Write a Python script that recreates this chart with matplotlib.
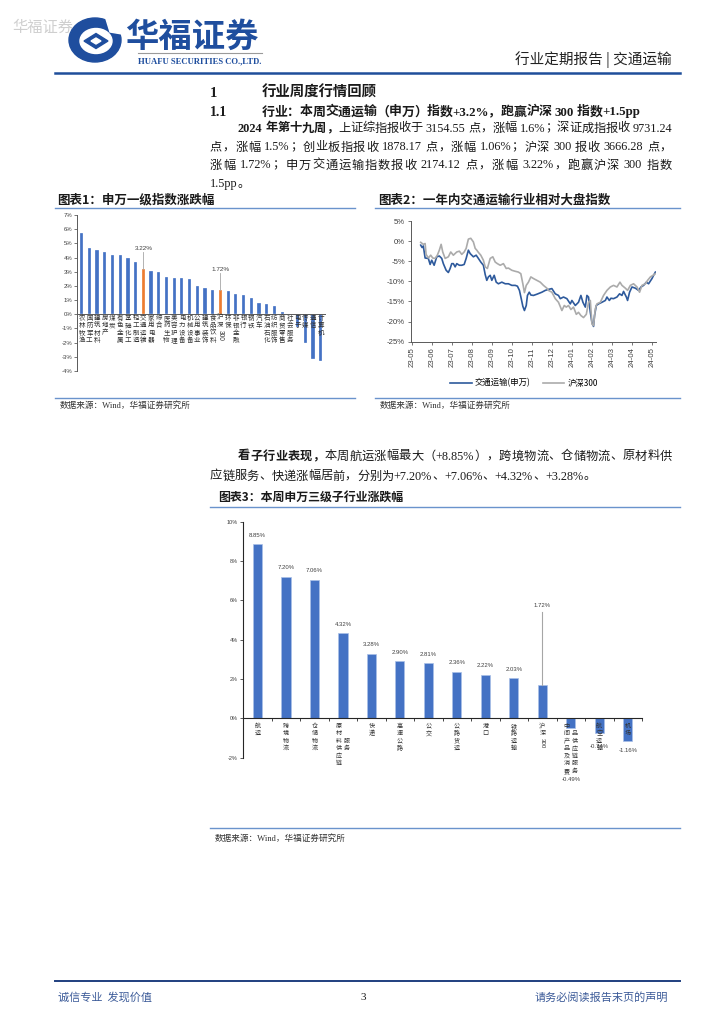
import re
import numpy as np
import matplotlib
matplotlib.use('Agg')
import matplotlib.pyplot as plt
from matplotlib.patches import Ellipse, Polygon
from matplotlib.lines import Line2D

# ---------------- data ----------------
cats1 = ['农林牧渔', '国防军工', '建筑材料', '房地产', '煤炭', '有色金属', '基础化工', '轻工制造',
         '交通运输', '家用电器', '综合', '医药生物', '美容护理', '电力设备', '机械设备', '公用事业',
         '建筑装饰', '食品饮料', '沪深300', '环保', '非银金融', '银行', '钢铁', '汽车', '石油石化',
         '纺织服饰', '商贸零售', '社会服务', '电子', '传媒', '通信', '计算机']
vals1 = [5.70, 4.65, 4.50, 4.37, 4.15, 4.15, 4.00, 3.68, 3.22, 3.07, 2.98, 2.60, 2.56, 2.53, 2.51,
         2.02, 1.85, 1.71, 1.72, 1.67, 1.43, 1.34, 1.13, 0.77, 0.73, 0.56, 0.14, 0.02, -0.87, -2.00,
         -3.17, -3.26]
highlight1 = ['交通运输', '沪深300']

month_labels = ['23-05', '23-06', '23-07', '23-08', '23-09', '23-10', '23-11', '23-12',
                '24-01', '24-02', '24-03', '24-04', '24-05']
series2_names = ['交通运输(申万)', '沪深300']
t_blue = [0.45, 0.52, 0.58, 0.67, 0.83, 0.92, 1.0, 1.12, 1.25, 1.38, 1.5, 1.58, 1.72, 1.83, 1.92,
          2.0, 2.08, 2.17, 2.25, 2.38, 2.5, 2.62, 2.72, 2.83, 2.92, 3.08, 3.22, 3.33, 3.45, 3.58,
          3.67, 3.75, 3.83, 3.92, 4.0, 4.12, 4.22, 4.33, 4.5, 4.67, 4.83, 5.0, 5.17, 5.28, 5.38,
          5.47, 5.55, 5.63, 5.72, 5.78, 5.87, 5.95, 6.08, 6.25, 6.5, 6.67, 6.83, 7.0, 7.17, 7.33,
          7.42, 7.58, 7.75, 7.92, 8.0, 8.17, 8.33, 8.45, 8.55, 8.67, 8.75, 8.83, 8.92, 9.0, 9.08,
          9.13, 9.22, 9.33, 9.5, 9.67, 9.75, 9.87, 9.95, 10.08, 10.25, 10.38, 10.5, 10.58, 10.72,
          10.78, 10.88, 11.0, 11.17, 11.33, 11.45, 11.58, 11.72, 11.83, 12.0, 12.08, 12.17]
v_blue = [-1.0, -1.6, -1.2, -4.2, -4.3, -5.8, -4.75, -6.0, -3.9, -3.7, -4.3, -5.6, -7.25, -7.8, -6.8,
          -5.6, -5.6, -6.4, -5.6, -6.0, -6.0, -5.8, -4.3, -2.25, -3.1, -3.9, -3.5, -4.3, -5.2, -6.0,
          -8.3, -9.75, -8.9, -8.5, -9.75, -8.5, -10.2, -10.6, -10.2, -10.6, -10.6, -11.0, -11.0,
          -11.2, -12.25, -14.3, -16.2, -17.25, -16.0, -13.5, -12.7, -13.4, -13.5, -13.2, -12.7,
          -12.25, -12.0, -11.8, -13.1, -13.5, -14.3, -13.9, -14.3, -15.6, -14.75, -16.0, -15.2,
          -13.5, -15.2, -16.4, -13.5, -13.9, -17.7, -20.2, -21.2, -18.5, -16.0, -15.6, -15.2,
          -14.75, -13.9, -14.75, -14.2, -14.3, -13.9, -13.1, -13.5, -12.5, -13.9, -14.75, -12.7,
          -11.4, -11.7, -12.25, -11.4, -11.0, -10.2, -10.6, -9.3, -8.5, -7.7]
t_gray = [0.45, 0.58, 0.67, 0.72, 0.83, 0.95, 1.05, 1.17, 1.28, 1.38, 1.47, 1.55, 1.67, 1.83, 1.95,
          2.08, 2.25, 2.38, 2.5, 2.62, 2.72, 2.83, 2.95, 3.08, 3.17, 3.25, 3.33, 3.45, 3.58, 3.67,
          3.78, 3.92, 4.05, 4.17, 4.28, 4.42, 4.58, 4.72, 4.83, 5.0, 5.17, 5.33, 5.45, 5.55, 5.63,
          5.72, 5.83, 5.95, 6.08, 6.25, 6.42, 6.58, 6.75, 6.83, 7.0, 7.17, 7.33, 7.5, 7.62, 7.72,
          7.83, 7.95, 8.08, 8.22, 8.33, 8.45, 8.58, 8.72, 8.83, 8.92, 9.0, 9.08, 9.17, 9.25, 9.42,
          9.58, 9.75, 9.92, 10.08, 10.25, 10.4, 10.5, 10.67, 10.78, 10.92, 11.08, 11.25, 11.38,
          11.5, 11.67, 11.78, 11.92, 12.05, 12.17]
v_gray = [-0.3, -0.8, -0.6, -3.3, -4.2, -3.5, -4.2, -4.3, -3.5, -2.25, -0.8, -2.7, -4.3, -3.9, -2.7,
          -3.5, -2.7, -2.5, -3.3, -2.7, -1.8, 0.5, 0.7, -0.2, -1.8, -2.25, -2.8, -3.5, -4.75, -6.4,
          -6.8, -4.3, -3.9, -5.2, -5.6, -6.0, -5.6, -6.8, -6.7, -7.25, -7.5, -7.7, -8.1, -10.6,
          -12.8, -11.0, -10.2, -8.9, -9.3, -9.75, -10.2, -11.0, -11.7, -12.25, -12.7, -14.3, -15.2,
          -17.25, -16.0, -16.4, -16.0, -17.0, -16.4, -18.2, -17.7, -18.5, -19.0, -18.2, -15.2,
          -14.75, -20.6, -21.0, -16.8, -15.6, -15.2, -13.5, -12.25, -11.4, -11.0, -11.4, -10.2,
          -11.0, -11.7, -12.25, -11.0, -10.6, -11.4, -12.7, -11.0, -10.6, -9.75, -8.9, -8.5, -8.1]

cats3 = ['航运', '跨境物流', '仓储物流', '原材料供应链服务', '快递', '高速公路', '公交', '公路货运',
         '港口', '铁路运输', '沪深300', '中间产品及消费品供应链服务', '航空运输', '机场']
vals3 = [8.85, 7.20, 7.06, 4.32, 3.28, 2.90, 2.81, 2.36, 2.22, 2.03, 1.72, -0.49, -0.74, -1.16]

# ---------------- style ----------------
W, H = 724, 1024
SERIF = ['Liberation Serif', 'Noto Sans CJK SC']
SANS = ['Liberation Sans', 'Noto Sans CJK SC']
CJK = ['Noto Sans CJK SC', 'DejaVu Sans']
BLUE = '#4472C4'
ORANGE = '#ED7D31'
NAVY = '#1F4E9A'
RULE = '#6A93CC'
TXT = '#1a1a1a'

fig = plt.figure(figsize=(W / 100, H / 100), dpi=100)
fig.patch.set_facecolor('white')
R = fig.canvas.get_renderer()


def fx(x):
    return x / W


def fy(y):
    return 1 - y / H


def txt(x, y, s, size, **kw):
    kw.setdefault('family', CJK)
    kw.setdefault('color', TXT)
    return fig.text(fx(x), fy(y), s, fontsize=size, **kw)


def hline(x0, x1, y, color, lw):
    fig.add_artist(Line2D([fx(x0), fx(x1)], [fy(y), fy(y)], color=color, lw=lw,
                          transform=fig.transFigure))


TOK = re.compile(r'[A-Za-z0-9.+%\-]+|\s|.')


def width_px(s, size, weight, family):
    t = fig.text(0, 0, s, fontsize=size, weight=weight, family=family)
    w = t.get_window_extent(R).width
    t.remove()
    return w


def para_line(segments, x0, x1, yb, size, justify=True, family=SERIF):
    toks = []
    for s, wt in segments:
        for m in TOK.finditer(s):
            toks.append((m.group(), wt))
    widths = []
    for s, wt in toks:
        if s.isspace():
            widths.append(size * 100 / 72 * 0.25)
        else:
            widths.append(width_px(s, size, wt, family))
    gap = 0.0
    if justify and len(toks) > 1:
        gap = (x1 - x0 - sum(widths)) / (len(toks) - 1)
    x = x0
    for (s, wt), w in zip(toks, widths):
        if not s.isspace():
            fig.text(fx(x), fy(yb), s, fontsize=size, weight=wt, family=family,
                     va='baseline', ha='left', color=TXT)
        x += w + gap


# ---------------- header ----------------
LOGO = '#1F4E9E'
logo = [Ellipse((fx(95), fy(40)), 52 / W, 44 / H, color=LOGO, transform=fig.transFigure),
        Ellipse((fx(96), fy(41)), 32 / W, 25 / H, color='white', transform=fig.transFigure),
        Polygon([[fx(84), fy(41)], [fx(96), fy(33.5)], [fx(108), fy(41)], [fx(96), fy(48.5)]],
                closed=True, color=LOGO, transform=fig.transFigure),
        Polygon([[fx(91), fy(41)], [fx(96), fy(38)], [fx(101), fy(41)], [fx(96), fy(44)]],
                closed=True, color='white', transform=fig.transFigure),
        Polygon([[fx(106), fy(19)], [fx(122), fy(22)], [fx(122), fy(34)], [fx(110), fy(32)]],
                closed=True, color='white', transform=fig.transFigure)]
for p in logo:
    fig.add_artist(p)
txt(12, 27, '华福证券', 11, color='#CFCFCF', va='center')
txt(125, 37, '华福证券', 24, color=LOGO, weight='bold', va='center')
hline(138, 262, 53, '#9A9A9A', 0.8)
txt(138, 61, 'HUAFU SECURITIES CO.,LTD.', 6.2, family=['Liberation Serif'], color=LOGO,
    va='center', weight='bold')
txt(672, 60, '行业定期报告 | 交通运输', 10.5, ha='right', va='center', color='#222222')
hline(55, 680, 73, NAVY, 1.8)

# ---------------- section text ----------------
txt(210, 97, '1', 10.5, family=SERIF, weight='bold', va='baseline')
txt(262, 97, '行业周度行情回顾', 10.4, weight='bold', va='baseline')
txt(210, 115.5, '1.1', 10, family=SERIF, weight='bold', va='baseline')
para_line([('行业：本周交通运输（申万）指数+3.2%，跑赢沪深 300 指数+1.5pp', 'bold')],
          262, 640, 115.5, 9.3, justify=True)
para_line([('2024 年第十九周，', 'bold'),
           ('上证综指报收于 3154.55 点，涨幅 1.6%；深证成指报收 9731.24', 'normal')],
          238, 672, 131.5, 8.8)
para_line([('点，涨幅 1.5%；创业板指报收 1878.17 点，涨幅 1.06%；沪深 300 报收 3666.28 点，', 'normal')],
          210, 672, 150.5, 8.8)
para_line([('涨幅 1.72%；申万交通运输指数报收 2174.12 点，涨幅 3.22%，跑赢沪深 300 指数', 'normal')],
          210, 672, 168.5, 8.8)
para_line([('1.5pp。', 'normal')], 210, 672, 186.5, 8.8, justify=False)

para_line([('看子行业表现，', 'bold'),
           ('本周航运涨幅最大（+8.85%），跨境物流、仓储物流、原材料供', 'normal')],
          238, 672, 459.5, 8.8)
para_line([('应链服务、快递涨幅居前，分别为+7.20%、+7.06%、+4.32%、+3.28%。', 'normal')],
          210, 672, 479.5, 8.8, justify=False)

# chart titles / rules / sources
txt(57, 200, '图表1：申万一级指数涨跌幅', 9, weight='bold', va='center')
txt(378, 200, '图表2：一年内交通运输行业相对大盘指数', 9, weight='bold', va='center')
hline(55, 355, 208, RULE, 1.0)
hline(375, 680, 208, RULE, 1.0)
hline(55, 355, 398, RULE, 1.0)
hline(375, 680, 398, RULE, 1.0)
txt(60, 405, '数据来源：Wind，华福证券研究所', 6.2, family=SERIF, va='center', color='#333333')
txt(380, 405, '数据来源：Wind，华福证券研究所', 6.2, family=SERIF, va='center', color='#333333')
txt(218, 497, '图表3：本周申万三级子行业涨跌幅', 8.6, weight='bold', va='center')
hline(210, 680, 507, RULE, 1.0)
hline(210, 680, 828, RULE, 1.0)
txt(215, 838, '数据来源：Wind，华福证券研究所', 6.2, family=SERIF, va='center', color='#333333')

# footer
hline(55, 680, 981, '#1F3F7F', 1.4)
txt(58, 997, '诚信专业  发现价值', 8, va='center', color='#3B5A98')
txt(363, 997, '3', 8, family=SERIF, ha='center', va='center')
txt(668, 997, '请务必阅读报告末页的声明', 8, ha='right', va='center', color='#3B5A98')


def vlabel(ax, x, cols, y0_px, step_px, size, col_dx=(0,), starts=(0,)):
    for col, dx, st in zip(cols, col_dx, starts):
        row_top = y0_px + st * step_px - step_px / 2
        for tok in re.findall(r'\d{2,}|.', col):
            if len(tok) > 1:
                L = len(tok) * 0.58 * size * 100 / 72
                cy = row_top + L / 2 + 1
                ax.annotate(tok, xy=(x, 0), xytext=(dx * 0.72, -cy * 0.72),
                            textcoords='offset points', ha='center', va='center',
                            fontsize=size, family=SANS, rotation=270,
                            annotation_clip=False, color='#333333')
                row_top += L + 2
            else:
                cy = row_top + step_px / 2
                ax.annotate(tok, xy=(x, 0), xytext=(dx * 0.72, -cy * 0.72),
                            textcoords='offset points', ha='center', va='center',
                            fontsize=size, family=CJK, annotation_clip=False,
                            color='#333333')
                row_top += step_px


def pct(v, p):
    return f'{v:.0f}%'


# ---------------- chart 1 ----------------
ax1 = fig.add_axes([fx(77), fy(371), (325 - 77) / W, (371 - 215) / H])
x1 = np.arange(len(cats1))
c1 = [ORANGE if c in highlight1 else BLUE for c in cats1]
ax1.bar(x1, vals1, width=0.42, color=c1, edgecolor='white', linewidth=0.2)
ax1.set_xlim(-0.6, len(cats1) - 0.44)
ax1.set_ylim(-4, 7)
ax1.set_yticks(range(-4, 8))
ax1.yaxis.set_major_formatter(pct)
ax1.set_xticks([])
for s in ['top', 'right']:
    ax1.spines[s].set_visible(False)
ax1.spines['bottom'].set_position(('data', 0))
for s in ['bottom', 'left']:
    ax1.spines[s].set_color('#595959')
    ax1.spines[s].set_linewidth(0.7)
ax1.tick_params(axis='y', labelsize=4.3, length=2, width=0.5, colors='#404040', pad=1.5)
for i, c in enumerate(cats1):
    vlabel(ax1, i, [c], 3.7, 7.3, 4.7)
for c in highlight1:
    i = cats1.index(c)
    v = vals1[i]
    ax1.plot([i, i], [v, v + 1.2], color='#A6A6A6', lw=0.6)
    ax1.text(i, v + 1.45, f'{v:.2f}%', ha='center', va='center', fontsize=4.6,
             family=SANS, color='#404040')
ax1.set_facecolor('none')

# ---------------- chart 2 ----------------
ax2 = fig.add_axes([fx(410.7), fy(341.7), (656 - 410.7) / W, (341.7 - 221) / H])
ax2.plot(t_blue, v_blue, color='#2E5A9C', lw=1.2, label=series2_names[0])
ax2.plot(t_gray, v_gray, color='#ABABAB', lw=1.2, label=series2_names[1])
ax2.set_xlim(-0.05, 12.2)
ax2.set_ylim(-25, 5)
ax2.set_yticks(range(-25, 6, 5))
ax2.yaxis.set_major_formatter(pct)
ax2.set_xticks(range(len(month_labels)))
ax2.set_xticklabels(month_labels, rotation=90)
for s in ['top', 'right']:
    ax2.spines[s].set_visible(False)
for s in ['bottom', 'left']:
    ax2.spines[s].set_color('#595959')
    ax2.spines[s].set_linewidth(0.7)
ax2.tick_params(axis='both', labelsize=5.6, length=2, width=0.5, colors='#404040', pad=2)
for lab in ax2.get_xticklabels() + ax2.get_yticklabels():
    lab.set_family(SANS)
ax2.legend(loc='center', bbox_to_anchor=(fx(524), fy(383)), bbox_transform=fig.transFigure,
           ncol=2, frameon=False, prop={'family': CJK, 'size': 6}, handlelength=2.6,
           handletextpad=0.4, columnspacing=1.4)

# ---------------- chart 3 ----------------
ax3 = fig.add_axes([fx(243.3), fy(757.7), (642 - 243.3) / W, (757.7 - 521.7) / H])
x3 = np.arange(len(cats3))
ax3.bar(x3, vals3, width=0.32, color=BLUE, edgecolor='#A9C0E8', linewidth=0.5)
ax3.set_xlim(-0.5, len(cats3) - 0.5)
ax3.set_ylim(-2, 10)
ax3.set_yticks(range(-2, 11, 2))
ax3.yaxis.set_major_formatter(pct)
ax3.set_xticks(np.arange(-0.5, len(cats3), 1))
ax3.set_xticklabels([])
for s in ['top', 'right']:
    ax3.spines[s].set_visible(False)
ax3.spines['bottom'].set_position(('data', 0))
for s in ['bottom', 'left']:
    ax3.spines[s].set_color('#262626')
    ax3.spines[s].set_linewidth(0.8)
ax3.tick_params(axis='y', labelsize=4, length=2.5, width=0.6, colors='#404040', pad=1.5)
ax3.tick_params(axis='x', length=2, width=0.6, colors='#262626')
for lab in ax3.get_yticklabels():
    lab.set_family(SANS)
for lab in ax1.get_yticklabels():
    lab.set_family(SANS)

label_cols3 = {'原材料供应链服务': (['原材料供应链', '服务'], (-4.3, 3.8), (0, 2)),
               '中间产品及消费品供应链服务': (['中间产品及消费', '品供应链服务'], (-4.3, 4.2), (0, 1))}
for i, c in enumerate(cats3):
    if c in label_cols3:
        cols, dxs, sts = label_cols3[c]
        vlabel(ax3, i, cols, 7.4, 7.5, 4.4, dxs, sts)
    else:
        vlabel(ax3, i, [c.replace('300', '3 0 0').replace(' ', '')], 7.4, 7.5, 4.4)

neg_off = {-0.49: -37, -0.74: -9.6, -1.16: -6.7}
for i, v in enumerate(vals3):
    lab = f'{v:.2f}%'
    if cats3[i] == '沪深300':
        ax3.plot([i, i], [v, v + 3.68], color='#A6A6A6', lw=0.8)
        ax3.text(i, v + 4.03, lab, ha='center', va='center', fontsize=4.3,
                 family=SANS, color='#404040')
    elif v >= 0:
        ax3.annotate(lab, xy=(i, v), xytext=(0, 6.5), textcoords='offset points',
                     ha='center', va='center', fontsize=4.3, family=SANS, color='#404040')
    else:
        ax3.annotate(lab, xy=(i, v), xytext=(0, neg_off.get(v, -8)), textcoords='offset points',
                     ha='center', va='center', fontsize=4.3, family=SANS, color='#404040',
                     annotation_clip=False)

fig.savefig('out.png', dpi=100, facecolor='white')
